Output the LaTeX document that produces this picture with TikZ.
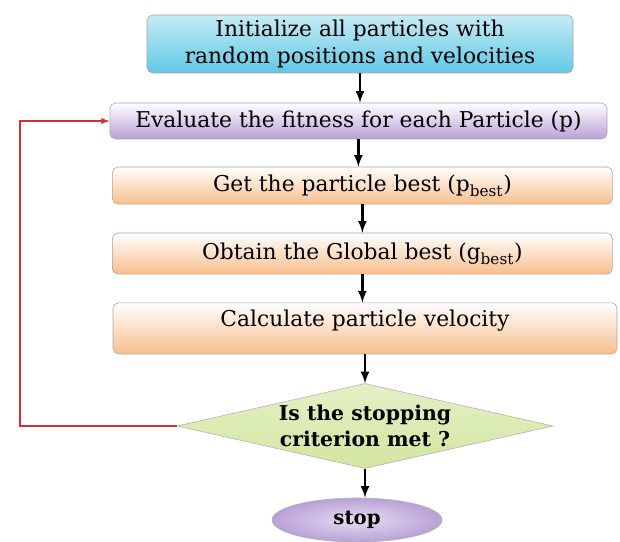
\documentclass[tikz,border=0pt]{standalone}
\usepackage{fontspec}
\setmainfont{DejaVu Serif}
\usepackage{xcolor}
\usepackage{tikz}
\usetikzlibrary{shapes.geometric, arrows}
\definecolor{psocyan}{RGB}{95, 200, 228}
\definecolor{psopurple}{RGB}{185, 160, 215}
\definecolor{psoorange}{RGB}{248, 190, 140}
\definecolor{psogreen}{RGB}{210, 230, 160}
\definecolor{psored}{RGB}{215, 45, 45}

\begin{document}
\begin{tikzpicture}[
  box/.style={draw=black!35, rounded corners=4pt, align=center, font=\fontsize{15.5}{19}\selectfont},
  initbox/.style={box, top color=psocyan!35, bottom color=psocyan, minimum width=10.65cm, minimum height=1.45cm},
  evalbox/.style={box, top color=white, bottom color=psopurple, minimum width=12.43cm, minimum height=0.9cm},
  stepbox/.style={box, top color=white, bottom color=psoorange, minimum width=12.5cm},
  decision/.style={diamond, draw=black!30, top color=psogreen!60, bottom color=psogreen, aspect=4.4, inner sep=0pt, minimum width=9.4cm, minimum height=2.125cm, align=center, font=\bfseries\fontsize{14.5}{18}\selectfont},
  terminal/.style={ellipse, draw=black!30, inner color=psopurple!35, outer color=psopurple, minimum width=4.25cm, minimum height=1.1cm, font=\bfseries\fontsize{14}{17}\selectfont},
  flow/.style={-latex, line width=1.8pt, black},
  loopback/.style={-latex, line width=1pt, psored}
]
\useasboundingbox (0,0) rectangle (15.5,13.55);

% Steps
\node[initbox] (init) at (9.0,12.45) {Initialize all particles with\\random positions and velocities};
\node[evalbox] (evaluate) at (8.96,10.525) {Evaluate the fitness for each Particle (p)};
\node[stepbox, minimum height=0.93cm] (pbest) at (9.06,8.91) {Get the particle best (p\textsubscript{best})};
\node[stepbox, minimum height=1.03cm] (gbest) at (9.06,7.21) {Obtain the Global best (g\textsubscript{best})};
\node[stepbox, minimum width=12.6cm, minimum height=1.28cm, text depth=0.5cm] (velocity) at (9.125,5.34) {Calculate particle velocity};

% Decision and end
\node[decision] (check) at (9.125,2.9) {Is the stopping\\criterion met ?};
\node[terminal] (stop) at (8.925,0.55) {stop};

% Arrows
\draw[flow] (init.south) -- (init.south |- evaluate.north);
\draw[flow] (evaluate.south) -- (evaluate.south |- pbest.north);
\draw[flow] (pbest.south) -- (pbest.south |- gbest.north);
\draw[flow] (gbest.south) -- (gbest.south |- velocity.north);
\draw[flow] (velocity.south) -- (velocity.south |- check.north);
\draw[flow] (check.south) -- (check.south |- stop.north);

% Loop back
\coordinate (back) at (0.5,2.9);
\draw[loopback] (check.west) -- (back) |- (evaluate.west);
\end{tikzpicture}
\end{document}
